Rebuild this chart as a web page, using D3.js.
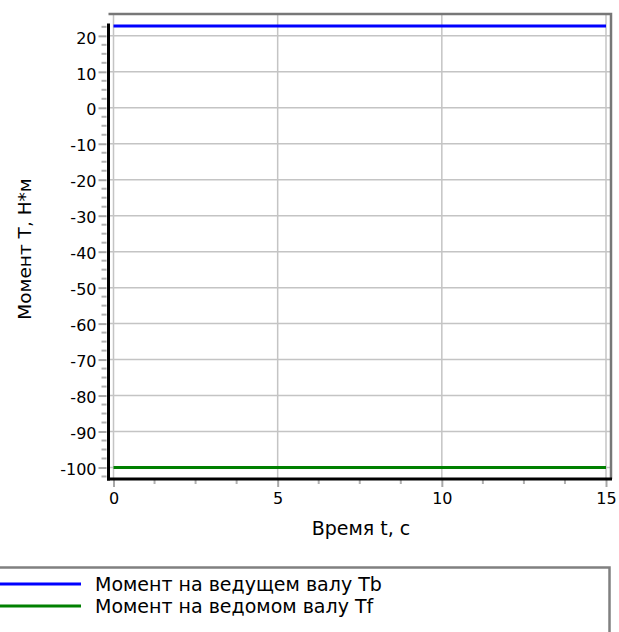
<!DOCTYPE html>
<html>
<head>
<meta charset="utf-8">
<script src="https://cdn.jsdelivr.net/npm/d3@7"></script>
<style>
  html, body { margin: 0; padding: 0; background: #fff; }
  svg { display: block; font-family: "DejaVu Sans", sans-serif; }
</style>
</head>
<body>
<svg id="chart" width="619" height="632"></svg>
<script>
// Torque on the driving and driven shafts over time
const time = [0, 1, 2, 3, 4, 5, 6, 7, 8, 9, 10, 11, 12, 13, 14, 15];
const torqueDriving = [22.7, 22.7, 22.7, 22.7, 22.7, 22.7, 22.7, 22.7, 22.7, 22.7, 22.7, 22.7, 22.7, 22.7, 22.7, 22.7];
const torqueDriven = [-100, -100, -100, -100, -100, -100, -100, -100, -100, -100, -100, -100, -100, -100, -100, -100];
const xTicks = [0, 5, 10, 15];
const yTicks = [20, 10, 0, -10, -20, -30, -40, -50, -60, -70, -80, -90, -100];
const seriesNames = ["Момент на ведущем валу Tb", "Момент на ведомом валу Tf"];
const seriesColors = ["#0000ff", "#008000"];
const xTitle = "Время t, с";
const yTitle = "Момент T, Н*м";

const svg = d3.select("#chart");

const x = d3.scaleLinear().domain([0, 15]).range([113.5, 606]);
const y = d3.scaleLinear().domain([-103.2, 23.4]).range([479, 23.6]);

const plotLeft = 108.5, plotRight = 611, plotTop = 14, plotBottom = 479;
const plainNumber = d => String(d);

// grid
const grid = svg.append("g");
grid.selectAll("line.h").data(yTicks).join("line")
  .attr("x1", plotLeft).attr("x2", plotRight)
  .attr("y1", d => y(d)).attr("y2", d => y(d))
  .attr("stroke", "#c4c4c4").attr("stroke-width", 1.5);
grid.selectAll("line.v").data(xTicks).join("line")
  .attr("x1", d => x(d)).attr("x2", d => x(d))
  .attr("y1", plotTop).attr("y2", plotBottom)
  .attr("stroke", "#c4c4c4").attr("stroke-width", 1.5);

// frame (top and right)
svg.append("path")
  .attr("d", `M${plotLeft},${plotTop}H${plotRight}V${plotBottom}`)
  .attr("fill", "none").attr("stroke", "#777").attr("stroke-width", 2.5);

// series
const line = d3.line().x((d, i) => x(time[i])).y(d => y(d));
[torqueDriving, torqueDriven].forEach((vals, k) => {
  svg.append("path").datum(vals)
    .attr("d", line)
    .attr("fill", "none")
    .attr("stroke", seriesColors[k])
    .attr("stroke-width", 3);
});

// Y axis
const yMinor = d3.range(-102.5, 23.4, 2.5).filter(v => Math.abs(v % 10) > 0.01);
const yAxis = svg.append("g").attr("transform", `translate(${plotLeft - 2},0)`)
  .call(d3.axisLeft(y).tickValues(yTicks).tickSize(8).tickPadding(2).tickFormat(plainNumber));
yAxis.select(".domain").remove();
yAxis.selectAll(".tick line").attr("stroke", "#a8a8a8").attr("stroke-width", 2);
yAxis.selectAll(".tick text").attr("font-size", 16).attr("fill", "#000")
  .attr("font-family", "DejaVu Sans").attr("dy", "0.45em");
svg.append("g").selectAll("line").data(yMinor).join("line")
  .attr("x1", plotLeft - 7).attr("x2", plotLeft - 2)
  .attr("y1", d => y(d)).attr("y2", d => y(d))
  .attr("stroke", "#b0b0b0").attr("stroke-width", 2);

// X axis
const xMinor = d3.range(1.25, 15, 1.25).filter(v => Math.abs(v % 5) > 0.01);
const xAxis = svg.append("g").attr("transform", `translate(0,${plotBottom + 1})`)
  .call(d3.axisBottom(x).tickValues(xTicks).tickSize(7).tickPadding(6).tickFormat(plainNumber));
xAxis.select(".domain").remove();
xAxis.selectAll(".tick line").attr("stroke", "#a8a8a8").attr("stroke-width", 2);
xAxis.selectAll(".tick text").attr("font-size", 16).attr("fill", "#000")
  .attr("font-family", "DejaVu Sans");
svg.append("g").selectAll("line").data(xMinor).join("line")
  .attr("x1", d => x(d)).attr("x2", d => x(d))
  .attr("y1", plotBottom + 1).attr("y2", plotBottom + 5)
  .attr("stroke", "#b0b0b0").attr("stroke-width", 2);

// black axis lines (left and bottom)
svg.append("line").attr("x1", plotLeft).attr("x2", plotLeft)
  .attr("y1", y(23.4)).attr("y2", plotBottom + 1.5)
  .attr("stroke", "#000").attr("stroke-width", 3);
svg.append("line").attr("x1", plotLeft - 1.5).attr("x2", plotRight + 1)
  .attr("y1", plotBottom).attr("y2", plotBottom)
  .attr("stroke", "#000").attr("stroke-width", 3);

// axis titles
svg.append("text").attr("x", 361).attr("y", 535)
  .attr("text-anchor", "middle").attr("font-size", 19).text(xTitle);
svg.append("text").attr("transform", `translate(31,249) rotate(-90)`)
  .attr("text-anchor", "middle").attr("font-size", 18.5).text(yTitle);

// legend
const lg = svg.append("g");
lg.append("rect").attr("x", -10).attr("y", 567.5).attr("width", 619.5).attr("height", 100)
  .attr("fill", "#fff").attr("stroke", "#808080").attr("stroke-width", 2.5);
const rows = lg.selectAll("g.row").data(seriesNames).join("g")
  .attr("transform", (d, i) => `translate(0,${584 + i * 22})`);
rows.append("line").attr("x1", 0).attr("x2", 81).attr("y1", 0).attr("y2", 0)
  .attr("stroke", (d, i) => seriesColors[i]).attr("stroke-width", 3);
rows.append("text").attr("x", 95).attr("y", 6.5).attr("font-size", 19).text(d => d);
</script>
</body>
</html>
